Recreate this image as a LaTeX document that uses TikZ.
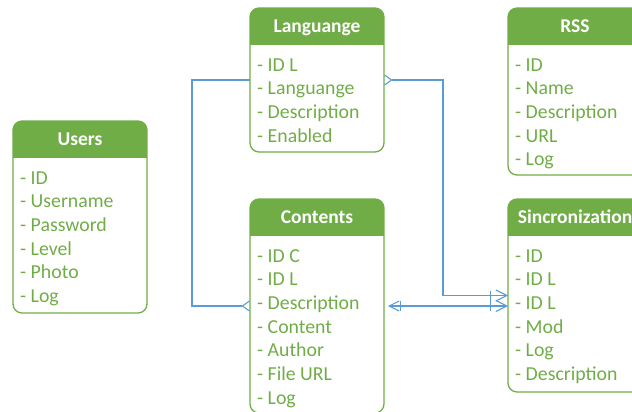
\documentclass[tikz,border=0pt]{standalone}
\usepackage{fontspec}
\setmainfont{Carlito}
\usetikzlibrary{arrows.meta}

\definecolor{ergreen}{HTML}{70AD47}
\definecolor{erblue}{HTML}{5B9BD5}

\tikzset{
  erbox/.style={minimum width=134pt, inner sep=0pt, outer sep=0pt, anchor=north west},
  erline/.style={draw=ergreen, line width=1.3pt, rounded corners=9pt},
  ertitle/.style={anchor=base, text=white, font=\fontsize{19.5}{23.7}\selectfont\bfseries},
  erfield/.style={anchor=base west, inner sep=0pt, text=ergreen, font=\fontsize{19.8}{23.7}\selectfont},
  link/.style={draw=erblue, line width=1.1pt},
}

% \entity{name}{x}{y}{height}{title}{fields}
\newcommand{\entity}[6]{%
  \node[erbox, minimum height=#4pt] (#1) at (#2,#3) {};
  \begin{scope}
    \clip[rounded corners=9pt] (#1.south west) rectangle (#1.north east);
    \fill[ergreen] (#1.north west) rectangle ([yshift=-37pt]#1.north east);
  \end{scope}
  \draw[erline] (#1.south west) rectangle (#1.north east);
  \node[ertitle] (#1-title) at ([yshift=-24.5pt]#1.north) {#5};
  \begin{scope}[shift={(#1.north west)}]
    \foreach \f [count=\i] in {#6}
      \node[erfield] (#1-\i) at (7, {63+23.7*(\i-1)}) {- \f};
  \end{scope}
}

\begin{document}
\begin{tikzpicture}[x=1pt, y=-1pt]
  \useasboundingbox (0,0) rectangle (632,412);
  \clip (0,0) rectangle (632,412);

  \entity{lang}{250}{8}{144}{Languange}{ID L, Languange, Description, Enabled}
  \entity{rss}{508}{8}{167}{RSS}{ID, Name, Description, URL, Log}
  \entity{users}{13}{121}{192}{Users}{ID, Username, Password, Level, Photo, Log}
  \entity{cont}{250}{199}{214}{Contents}{ID C, ID L, Description, Content, Author, File URL, Log}
  \entity{sinc}{508}{199}{193}{Sincronization}{ID, ID L, ID L, Mod, Log, Description}

  % relations
  \draw[link, -{Straight Barb[reversed, length=7pt, width=10pt]}]
    (lang.west) -- ++(-58,0) |- (cont.west);
  \draw[link, {Straight Barb[reversed, length=7pt, width=10pt]}-{Bar[width=10pt, sep=4pt] Straight Barb[length=11pt, width=11pt]}]
    (lang.east) -- ++(59,0) |- (sinc.west);
  \draw[link, {Straight Barb[length=10pt, width=10pt, sep=4pt] Bar[width=10pt]}-{Bar[width=10pt, sep=4pt] Straight Barb[length=11pt, width=11pt]}]
    (cont.east) -- (cont.east -| sinc.west);
\end{tikzpicture}
\end{document}
